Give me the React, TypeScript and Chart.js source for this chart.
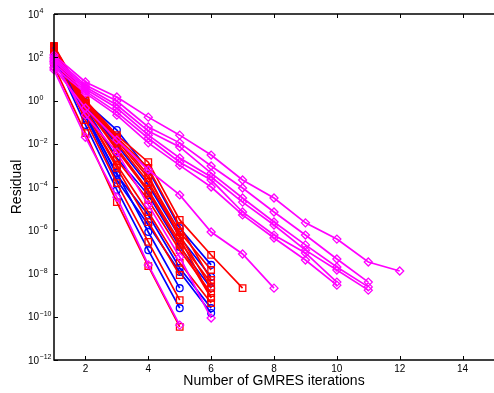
import React, { useEffect, useRef } from "react";
import { Chart, registerables } from "chart.js";
Chart.register(...registerables);

// GMRES iteration index
const iterations = [1, 2, 3, 4, 5, 6, 7, 8, 9, 10, 11, 12];

// Axis ticks
const xTickValues = [2, 4, 6, 8, 10, 12, 14];
const yTickValues = [1e4, 1e2, 1e0, 1e-2, 1e-4, 1e-6, 1e-8, 1e-10, 1e-12];
const yTickExponents = ["4", "2", "0", "\u22122", "\u22124", "\u22126", "\u22128", "\u221210", "\u221212"];

// Blue (circle) residual histories
const blueA = [114, 0.074, 7.3e-5, 1.2e-7, 2.5e-10];
const blueB = [216, 0.21, 4.4e-4, 8.3e-7, 2.1e-9];
const blueC = [298, 0.85, 0.043, 6.1e-4, 1.27e-6, 2.5e-8];
const blueD = [241, 0.62, 8.8e-3, 1.24e-4, 4.9e-7, 6.9e-9];
const blueE = [195, 0.45, 2.2e-3, 4.3e-5, 1.7e-7, 2.1e-9];
const blueF = [175, 0.24, 3.6e-4, 5.1e-6, 1.8e-8, 2.5e-10];
const blueG = [141, 0.19, 2.1e-4, 1.75e-6, 1.17e-8, 1.5e-10];

// Red (square) residual histories
const redA = [39, 0.031, 2.0e-5, 2.2e-8, 3.4e-11];
const redB = [157, 0.125, 1.5e-4, 2.9e-7, 5.9e-10];
const redC = [268, 0.29, 7.6e-4, 2.4e-6, 8.5e-9];
const redD = [331, 1.05, 0.025, 1.4e-3, 3.0e-6, 7.2e-8, 2.1e-9];
const redE = [298, 0.69, 0.015, 2.6e-4, 8.3e-7, 1.45e-8];
const redF = [268, 0.56, 6.4e-3, 7.3e-5, 2.9e-7, 3.6e-9];
const redG = [241, 0.36, 1.8e-3, 2.5e-5, 1.2e-7, 1.25e-9];
const redH = [216, 0.29, 1.04e-3, 7.0e-6, 3.1e-8, 4.3e-10];
const redI = [298, 0.77, 0.018, 3.6e-4, 4.4e-7, 7.4e-10];
const redJ = [300, 0.95, 0.02, 7.6e-4, 1.57e-6, 5.0e-9];
const redK = [298, 0.77, 0.011, 1.7e-4, 6.0e-7, 2.1e-9];
const redL = [268, 0.5, 5.1e-3, 5.9e-5, 2.1e-7, 7.4e-10];

// Magenta (diamond) residual histories
const magentaA = [126, 7.2, 1.45, 0.17, 0.025, 3.0e-3, 2.1e-4, 3.1e-5, 2.2e-6, 3.9e-7, 3.4e-8, 1.3e-8];
const magentaB = [100, 5.2, 0.95, 0.06, 0.011, 9.4e-4, 9.0e-5, 7.0e-6, 6.0e-7, 4.7e-8, 4.0e-9];
const magentaC = [83, 4.2, 0.62, 0.039, 7.1e-3, 4.4e-4, 3.1e-5, 2.4e-6, 2.1e-7, 2.0e-8, 2.4e-9];
const magentaD = [67, 3.4, 0.45, 0.025, 2.2e-3, 2.9e-4, 2.0e-5, 1.75e-6, 1.2e-7, 1.45e-8, 1.7e-9];
const magentaE = [49, 2.7, 0.29, 0.018, 1.4e-3, 2.1e-4, 7.0e-6, 6.0e-7, 8.9e-8, 4.0e-9];
const magentaF = [35, 2.2, 0.21, 0.011, 1.0e-3, 1.0e-4, 5.1e-6, 4.4e-7, 4.2e-8, 2.9e-9];
const magentaG = [32, 0.45, 0.015, 6.1e-4, 4.3e-5, 8.3e-7, 8.0e-8, 2.1e-9];
const magentaH = [26, 0.02, 3.4e-5, 2.5e-8, 4.1e-11];
const magentaI = [60, 0.21, 4.1e-3, 1.5e-5, 5.8e-8, 8.7e-11];

const blueSeries = [blueA, blueB, blueC, blueD, blueE, blueF, blueG];
const redSeries = [redA, redB, redC, redD, redE, redF, redG, redH, redI, redJ, redK, redL];
const magentaSeries = [magentaA, magentaB, magentaC, magentaD, magentaE, magentaF, magentaG, magentaH, magentaI];

const BLUE = "rgb(0,0,255)";
const RED = "rgb(255,0,0)";
const MAGENTA = "rgb(255,0,255)";
const FONT = "'Liberation Sans', Arial, Helvetica, sans-serif";

function makeDataset(values: number[], color: string, style: string, radius: number) {
  return {
    data: values.map((v, i) => ({ x: iterations[i], y: v })),
    borderColor: color,
    borderWidth: 1.7,
    pointStyle: style,
    pointRadius: radius,
    pointBorderColor: color,
    pointBackgroundColor: "rgba(0,0,0,0)",
    pointBorderWidth: 1.3,
    pointHoverRadius: radius,
    fill: false,
    tension: 0,
    clip: false as any,
  };
}

const axesPlugin = {
  id: "matlabAxes",
  afterDraw(chart: any) {
    const { ctx, chartArea, scales } = chart;
    const { left, right, top, bottom } = chartArea;
    const xs = scales.x;
    const ys = scales.y;
    ctx.save();
    ctx.strokeStyle = "#000";
    ctx.lineWidth = 1.5;
    ctx.beginPath();
    ctx.moveTo(left, top);
    ctx.lineTo(right, top);
    ctx.moveTo(left, top);
    ctx.lineTo(left, bottom);
    ctx.lineTo(right, bottom);
    ctx.stroke();

    ctx.lineWidth = 1;
    ctx.beginPath();
    for (const v of yTickValues) {
      const py = Math.round(ys.getPixelForValue(v)) + 0.5;
      ctx.moveTo(left, py);
      ctx.lineTo(left + 4, py);
    }
    for (const v of xTickValues) {
      const px = Math.round(xs.getPixelForValue(v)) + 0.5;
      ctx.moveTo(px, bottom);
      ctx.lineTo(px, bottom - 4);
      ctx.moveTo(px, top);
      ctx.lineTo(px, top + 4);
    }
    ctx.stroke();

    ctx.fillStyle = "#000";
    ctx.textBaseline = "alphabetic";
    yTickValues.forEach((v, i) => {
      const py = ys.getPixelForValue(v);
      ctx.font = `10px ${FONT}`;
      ctx.textAlign = "left";
      ctx.fillText("10", 28, py + 3.5);
      const w = ctx.measureText("10").width;
      ctx.font = `7px ${FONT}`;
      ctx.fillText(yTickExponents[i], 28 + w + 0.5, py - 1);
    });

    ctx.font = `10px ${FONT}`;
    ctx.textAlign = "center";
    for (const v of xTickValues) {
      ctx.fillText(String(v), xs.getPixelForValue(v), bottom + 12);
    }

    ctx.font = `14px ${FONT}`;
    ctx.fillText("Number of GMRES iterations", (left + right) / 2, 385);

    ctx.translate(17, (top + bottom) / 2);
    ctx.rotate(-Math.PI / 2);
    ctx.textBaseline = "middle";
    ctx.fillText("Residual", 0, 0);
    ctx.restore();
  },
};

export default function App() {
  const ref = useRef<HTMLCanvasElement>(null);
  useEffect(() => {
    const canvas = ref.current!;
    const datasets = [
      ...magentaSeries.map((s) => makeDataset(s, MAGENTA, "rectRot", 4)),
      ...redSeries.map((s) => makeDataset(s, RED, "rect", 4.6)),
      ...blueSeries.map((s) => makeDataset(s, BLUE, "circle", 3.4)),
    ];
    const chart = new Chart(canvas, {
      type: "line",
      data: { datasets: datasets as any },
      options: {
        animation: false,
        responsive: false,
        devicePixelRatio: 1,
        layout: { autoPadding: false, padding: { top: 14, right: 0, left: 0, bottom: 0 } },
        plugins: { legend: { display: false }, tooltip: { enabled: false } },
        scales: {
          x: {
            type: "linear",
            min: 1,
            max: 15,
            ticks: { display: false },
            grid: { display: false },
            border: { display: false },
            afterFit: (s: any) => {
              s.height = 33;
            },
          },
          y: {
            type: "logarithmic",
            min: 1e-12,
            max: 1e4,
            ticks: { display: false },
            grid: { display: false },
            border: { display: false },
            afterFit: (s: any) => {
              s.width = 54;
            },
          },
        },
      },
      plugins: [axesPlugin],
    });
    return () => chart.destroy();
  }, []);
  return (
    <div style={{ position: "absolute", left: 0, top: 0, width: 494, height: 393, background: "#fff" }}>
      <canvas ref={ref} width={494} height={393} style={{ display: "block", width: 494, height: 393 }} />
    </div>
  );
}
